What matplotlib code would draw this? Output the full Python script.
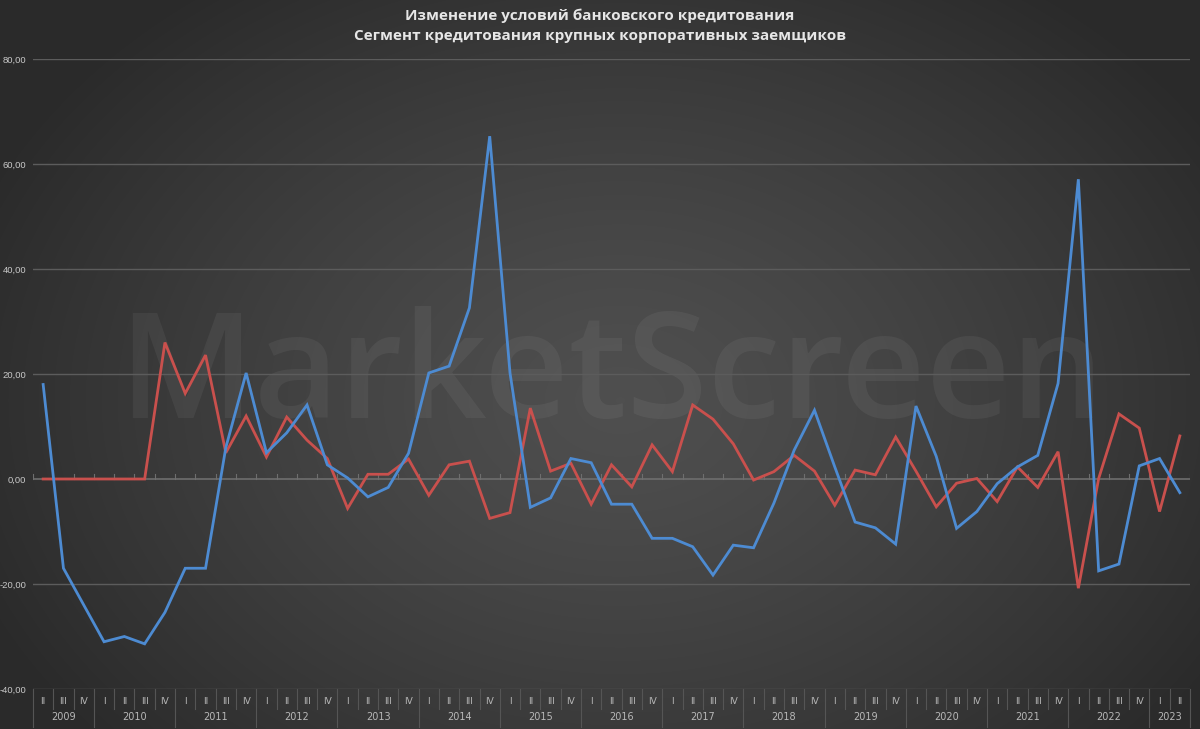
import numpy as np
import matplotlib
matplotlib.use("Agg")
import matplotlib.pyplot as plt
from matplotlib.lines import Line2D
import matplotlib.transforms as mtransforms

# ---- data ----
years = ["2009", "2010", "2011", "2012", "2013", "2014", "2015", "2016",
         "2017", "2018", "2019", "2020", "2021", "2022", "2023"]
year_quarters = [["II", "III", "IV"]] + [["I", "II", "III", "IV"]] * 13 + [["I", "II"]]

blue_values = [18.0, -17.0, -24.0, -31.0, -30.0, -31.4, -25.4, -17.0, -17.0, 6.0,
               20.2, 5.0, 8.8, 14.1, 2.7, 0.2, -3.4, -1.6, 4.9, 20.2,
               21.5, 32.6, 65.3, 20.2, -5.4, -3.6, 3.9, 3.1, -4.8, -4.8,
               -11.3, -11.3, -12.9, -18.3, -12.6, -13.1, -4.6, 5.5, 13.1, 2.3,
               -8.2, -9.3, -12.4, 13.9, 4.3, -9.4, -6.2, -0.9, 2.3, 4.5,
               18.2, 57.1, -17.5, -16.2, 2.5, 3.9, -2.6]
red_values = [0.0, 0.0, 0.0, 0.0, 0.0, 0.0, 26.0, 16.3, 23.6, 5.0,
              12.0, 4.2, 11.8, 7.4, 3.9, -5.6, 0.9, 0.9, 3.8, -3.1,
              2.7, 3.4, -7.5, -6.4, 13.5, 1.5, 3.0, -4.8, 2.7, -1.5,
              6.5, 1.4, 14.1, 11.4, 6.7, -0.2, 1.4, 4.5, 1.5, -5.0,
              1.7, 0.8, 8.0, 1.5, -5.3, -0.8, 0.1, -4.3, 2.3, -1.6,
              5.2, -20.8, 0.1, 12.4, 9.7, -6.2, 8.2]
y_ticks = [-40, -20, 0, 20, 40, 60, 80]
title_lines = ["Изменение условий банковского кредитования",
               "Сегмент кредитования крупных корпоративных заемщиков"]
watermark = "MarketScreen"

# ---- figure ----
W, H = 1200, 729
fig = plt.figure(figsize=(W / 100, H / 100), dpi=100)

# background radial gradient
bg = fig.add_axes([0, 0, 1, 1], zorder=-10)
yy, xx = np.mgrid[0:H, 0:W]
r = np.sqrt(((xx - 620) / 700.0) ** 2 + ((yy - 400) / 520.0) ** 2)
r = np.clip(r, 0, 1)
dark, light = 0.165, 0.31
val = light - (light - dark) * r ** 1.3
img = np.dstack([val, val, val])
bg.imshow(img, aspect="auto", extent=[0, 1, 0, 1], origin="upper")
bg.set_axis_off()

left_px, right_px = 33, 1190
top_px, bot_px = 59, 689
ax = fig.add_axes([left_px / W, 1 - bot_px / H, (right_px - left_px) / W, (bot_px - top_px) / H])
ax.set_facecolor("none")

x = np.arange(len(blue_values))
ax.set_xlim(-0.5, len(blue_values) - 0.5)
ax.set_ylim(-40, 80)

# watermark
fig.text(611 / W, 1 - 418 / H, watermark, fontsize=106, fontweight="semibold",
         family="Open Sans", color="white", alpha=0.055, ha="center",
         va="baseline", zorder=-5)

# grid
for yv in y_ticks:
    if yv == 0:
        continue
    ax.axhline(yv, color="#5c5c5c", lw=1.0, zorder=1)
ax.axhline(0, color="#6e6e6e", lw=1.2, zorder=1)
for b in np.arange(-0.5, len(blue_values), 1.0):
    ax.plot([b, b], [0, 0.9], color="#6e6e6e", lw=0.8, zorder=1)

ax.plot(x, red_values, color="#c9504d", lw=2.0, zorder=3, solid_joinstyle="miter")
ax.plot(x, blue_values, color="#4d8bd2", lw=2.0, zorder=4, solid_joinstyle="miter")

ax.set_yticks(y_ticks)
ax.set_yticklabels([f"{v},00" for v in y_ticks], color="#c8c8c8", fontsize=6.8,
                   family="Liberation Sans")
ax.tick_params(axis="y", length=0, pad=5)
ax.set_xticks([])
for s in ax.spines.values():
    s.set_visible(False)

# category table below axis
trans = mtransforms.blended_transform_factory(ax.transData, fig.transFigure)
y_q = 1 - 701 / H
y_y = 1 - 717 / H
sep_color = "#555555"
lab_color = "#b8b8b8"
pos = 0
boundaries = [-0.5]
for yr, qs in zip(years, year_quarters):
    start = pos
    for qi, q in enumerate(qs):
        ax.text(pos, y_q, q, transform=trans, ha="center", va="center",
                fontsize=6.5, color=lab_color, clip_on=False)
        if qi > 0:
            fig.add_artist(Line2D([pos - 0.5, pos - 0.5], [1 - 689 / H, 1 - 709 / H],
                                  transform=trans, color=sep_color, lw=0.8))
        pos += 1
    ax.text((start + pos - 1) / 2, y_y, yr, transform=trans, ha="center", va="center",
            fontsize=7, color=lab_color, clip_on=False)
    boundaries.append(pos - 0.5)
for b in boundaries:
    fig.add_artist(Line2D([b, b], [1 - 689 / H, 1 - 727 / H], transform=trans,
                          color=sep_color, lw=0.8))

# title
fig.text(0.5, 1 - 16 / H, title_lines[0], ha="center", va="center", fontsize=11,
         fontweight="bold", color="#e6e6e6", family="Open Sans")
fig.text(0.5, 1 - 36 / H, title_lines[1], ha="center", va="center", fontsize=11,
         fontweight="bold", color="#e6e6e6", family="Open Sans")

fig.savefig("out.png", dpi=100)
